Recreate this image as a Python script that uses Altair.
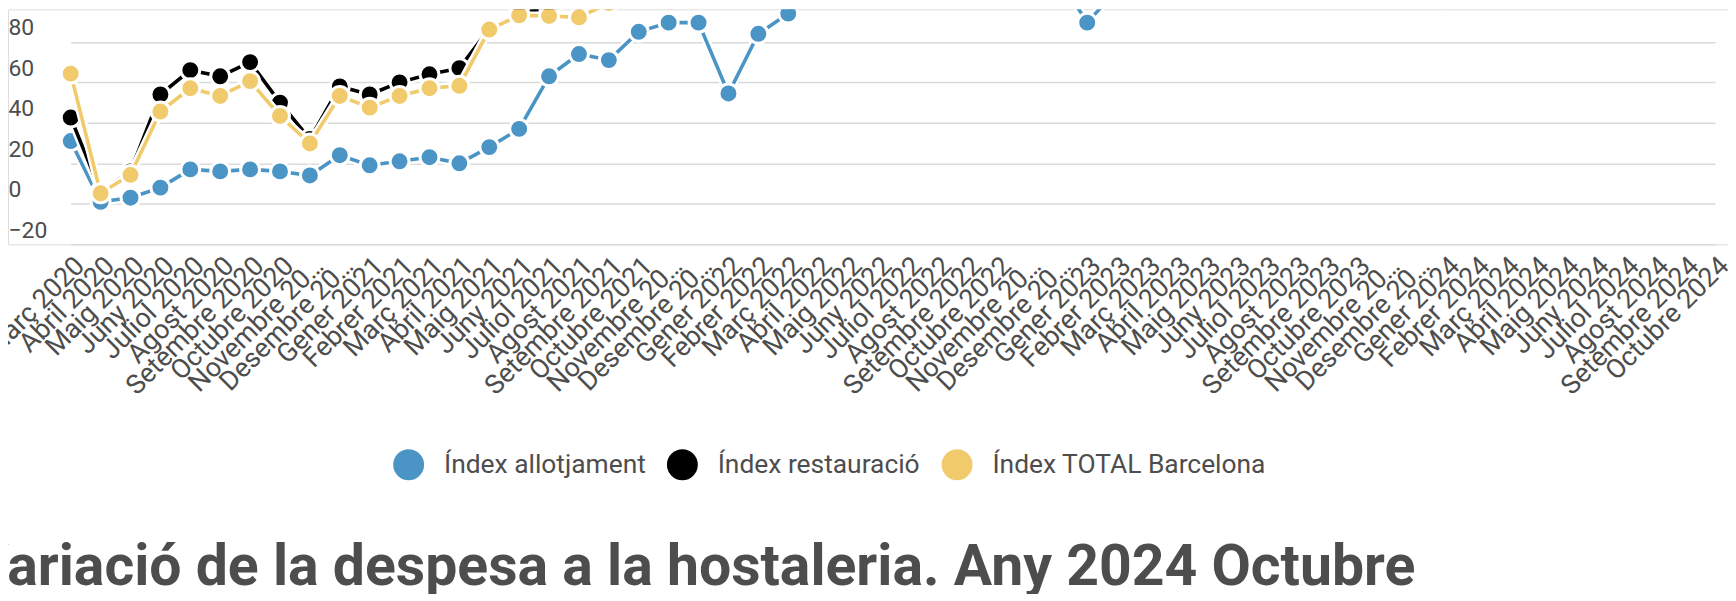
import altair as alt
import pandas as pd

month_names = ["Gener", "Febrer", "Març", "Abril", "Maig", "Juny", "Juliol",
               "Agost", "Setembre", "Octubre", "Novembre", "Desembre"]
years = [2020, 2021, 2022, 2023, 2024]
months = [f"{m} {y}" for y in years for m in month_names]
months = months[months.index("Març 2020"): months.index("Octubre 2024") + 1]

names = ["Índex allotjament", "Índex restauració", "Índex TOTAL Barcelona"]
colors = ["#4a94c6", "#000000", "#f1ca6b"]

allotjament = [31, 1, 3, 8, 17, 16, 17, 16, 14, 24,
               19, 21, 23, 20, 28, 37, 63, 74, 71, 85, 89.5, 89.5,
               54.5, 84, 94, 118, 125, 128, 130, 126, 128, 130, 120, 113,
               89.5, 106, 120, 128, 130, 132, 133, 128, 131, 133, 124, 118,
               101.5, 114, 122, 130, 133, 135, 136, 130, 134, 136]
restauracio = [42.6, 6, 16, 54, 66, 63, 70, 50, 32, 58,
               54, 60, 64, 67, 86.5, 94, 97, 99, 103, 110, 115, 112,
               108, 118, 125, 130, 135, 138, 136, 134, 137, 139, 132, 130,
               120, 128, 136, 140, 142, 141, 140, 138, 141, 143, 136, 133,
               124, 132, 140, 144, 146, 145, 144, 142, 145, 147]
total = [64.3, 5.2, 14.3, 45.6, 57.1, 53.3, 60.6, 43.4, 29.8, 53.3,
         47.5, 53.3, 57.1, 58.3, 86.1, 93.1, 92.8, 92.1, 99.2, 105, 110, 108,
         103, 112, 120, 126, 130, 133, 132, 130, 133, 135, 128, 125,
         112, 122, 130, 135, 137, 138, 137, 134, 137, 139, 132, 128,
         116, 126, 133, 138, 140, 141, 140, 137, 140, 142]

series = [allotjament, restauracio, total]

rows = []
for name, vals in zip(names, series):
    for m, v in zip(months, vals):
        rows.append({"month": m, "serie": name, "value": v})
df = pd.DataFrame(rows)

x_enc = alt.X("month:O", sort=months,
              scale=alt.Scale(type="point", range=[63, 1715], padding=0),
              axis=alt.Axis(title=None, labelAngle=-45, labelFont="Roboto",
                            labelFontSize=27, labelLimit=186, labelColor="#4d4d4d",
                            ticks=False, domain=False, grid=False, labelPadding=8))
y_enc = alt.Y("value:Q",
              scale=alt.Scale(domain=[-20, 96.07], nice=False, zero=False),
              axis=alt.Axis(title=None, values=[-20, 0, 20, 40, 60, 80],
                            labelFont="Roboto", labelFontSize=23, labelColor="#4d4d4d",
                            labelAlign="left", labelBaseline="alphabetic",
                            labelOffset=-7, labelPadding=0, ticks=False, domain=False,
                            grid=True, gridColor="#d9d9d9", gridWidth=1.5))

color_enc = alt.Color("serie:N",
                      scale=alt.Scale(domain=names, range=colors),
                      legend=alt.Legend(title=None, orient="none", direction="horizontal",
                                        legendX=387, legendY=442,
                                        symbolType="circle", symbolSize=961,
                                        symbolStrokeWidth=0, labelFont="Roboto",
                                        labelFontSize=26.5, labelColor="#4d4d4d",
                                        labelLimit=500,
                                        labelOffset=20, columnPadding=21))

layers = []
for name, col in zip(names, colors):
    base = alt.Chart(df).transform_filter(alt.datum.serie == name)
    halo = base.mark_line(color="white", strokeWidth=8.5, clip=True,
                          strokeJoin="round").encode(x=x_enc, y=y_enc)
    line = base.mark_line(color=col, strokeWidth=3.6, clip=True,
                          strokeJoin="round").encode(x=x_enc, y=y_enc)
    pts = base.mark_point(filled=True, shape="circle", size=361, stroke="white",
                          strokeWidth=3, opacity=1, strokeOpacity=1,
                          clip=True).encode(x=x_enc, y=y_enc, color=color_enc)
    layers += [halo, line, pts]

chart = alt.layer(*layers).properties(
    width=1728, height=236,
    autosize=alt.AutoSizeParams(type="none"),
    padding={"left": 0, "top": 0, "right": 0, "bottom": 350},
    title=alt.TitleParams(text="Variació de la despesa a la hostaleria. Any 2024 Octubre",
                          orient="bottom", anchor="start", frame="group",
                          font="Roboto", fontSize=57.4,
                          fontWeight="bold", color="#4d4d4d", dx=-37, offset=60),
).configure_view(stroke=None).configure(background="white")

chart.save("out.html", embed_options={"renderer": "svg", "actions": False})
